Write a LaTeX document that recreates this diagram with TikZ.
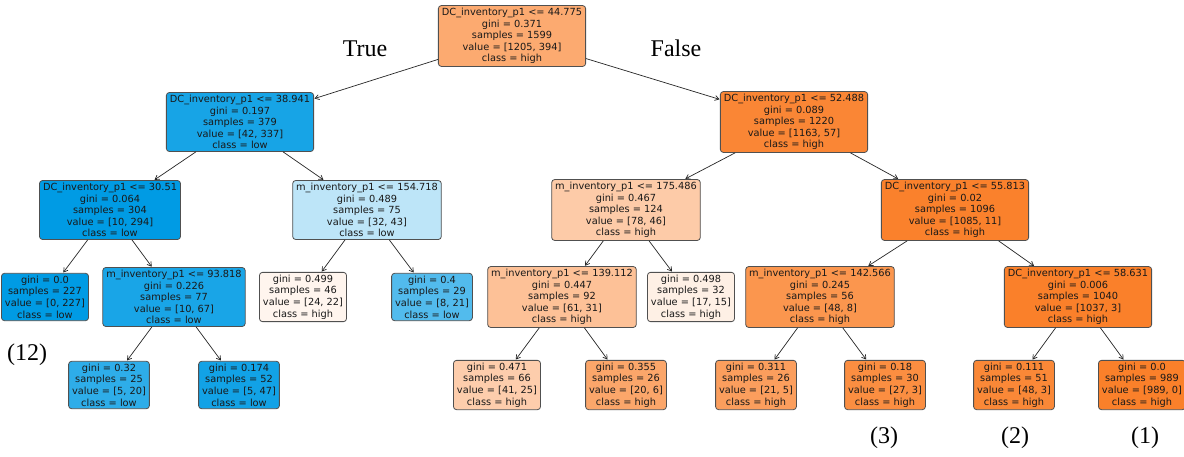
\documentclass[tikz,border=0pt]{standalone}
\usepackage{fontspec}
\setmainfont{DejaVu Sans}
\newfontfamily\tnr{Liberation Serif}
\usetikzlibrary{arrows.meta}
\definecolor{highc}{RGB}{250,128,42}
\definecolor{lowc}{RGB}{0,155,228}
\definecolor{boxline}{RGB}{80,80,80}
\definecolor{txt}{RGB}{25,25,25}
\tikzset{
  tbox/.style={draw=boxline, line width=0.8pt, rounded corners=3pt, align=center,
    text=txt, font=\fontsize{9.8}{11.6}\selectfont, inner xsep=3.5pt, inner ysep=2.5pt},
  edge/.style={draw=black!85, line width=0.7pt, -{Straight Barb[length=4pt,width=5pt]}, shorten >=0.5pt},
  tag/.style={font=\tnr\fontsize{24}{26}\selectfont, text=black}
}

\begin{document}
\begin{tikzpicture}[x=1pt, y=-1pt]
		%%%%% FRAME %%%%%
		\path[use as bounding box, fill=white] (0,0) rectangle (1184,456);
		
		%%%%% LEVEL 0 %%%%%
		\node[tbox, fill=highc!67!white] (root) at (512,36) {DC\_inventory\_p1 <= 44.775\\gini = 0.371\\samples = 1599\\value = [1205, 394]\\class = high};
		
		%%%%% LEVEL 1 %%%%%
		\node[tbox, fill=lowc!91!white] (L) at (240,122) {DC\_inventory\_p1 <= 38.941\\gini = 0.197\\samples = 379\\value = [42, 337]\\class = low};
		\node[tbox, fill=highc!95!white] (R) at (794,122) {DC\_inventory\_p1 <= 52.488\\gini = 0.089\\samples = 1220\\value = [1163, 57]\\class = high};
		
		%%%%% LEVEL 2 %%%%%
		\node[tbox, fill=lowc] (LL) at (110,210) {DC\_inventory\_p1 <= 30.51\\gini = 0.064\\samples = 304\\value = [10, 294]\\class = low};
		\node[tbox, fill=lowc!26!white] (LR) at (367,210) {m\_inventory\_p1 <= 154.718\\gini = 0.489\\samples = 75\\value = [32, 43]\\class = low};
		\node[tbox, fill=highc!41!white] (RL) at (626,210) {m\_inventory\_p1 <= 175.486\\gini = 0.467\\samples = 124\\value = [78, 46]\\class = high};
		\node[tbox, fill=highc!99!white] (RR) at (955,210) {DC\_inventory\_p1 <= 55.813\\gini = 0.02\\samples = 1096\\value = [1085, 11]\\class = high};
		
		%%%%% LEVEL 3 %%%%%
		\node[tbox, fill=lowc] (LLL) at (45,297) {gini = 0.0\\samples = 227\\value = [0, 227]\\class = low};
		\node[tbox, fill=lowc!90!white] (LLR) at (174,297) {m\_inventory\_p1 <= 93.818\\gini = 0.226\\samples = 77\\value = [10, 67]\\class = low};
		\node[tbox, fill=highc!8!white] (LRL) at (303,297) {gini = 0.499\\samples = 46\\value = [24, 22]\\class = high};
		\node[tbox, fill=lowc!68!white] (LRR) at (432,297) {gini = 0.4\\samples = 29\\value = [8, 21]\\class = low};
		\node[tbox, fill=highc!49!white] (RLL) at (562,297) {m\_inventory\_p1 <= 139.112\\gini = 0.447\\samples = 92\\value = [61, 31]\\class = high};
		\node[tbox, fill=highc!12!white] (RLR) at (691,297) {gini = 0.498\\samples = 32\\value = [17, 15]\\class = high};
		\node[tbox, fill=highc!83!white] (RRL) at (820,297) {m\_inventory\_p1 <= 142.566\\gini = 0.245\\samples = 56\\value = [48, 8]\\class = high};
		\node[tbox, fill=highc] (RRR) at (1078,297) {DC\_inventory\_p1 <= 58.631\\gini = 0.006\\samples = 1040\\value = [1037, 3]\\class = high};
		
		%%%%% LEVEL 4 %%%%%
		\node[tbox, fill=lowc!82!white] (LLRL) at (109,385) {gini = 0.32\\samples = 25\\value = [5, 20]\\class = low};
		\node[tbox, fill=lowc!93!white] (LLRR) at (239,385) {gini = 0.174\\samples = 52\\value = [5, 47]\\class = low};
		\node[tbox, fill=highc!39!white] (RLLL) at (497,385) {gini = 0.471\\samples = 66\\value = [41, 25]\\class = high};
		\node[tbox, fill=highc!70!white] (RLLR) at (626,385) {gini = 0.355\\samples = 26\\value = [20, 6]\\class = high};
		\node[tbox, fill=highc!76!white] (RRLL) at (756,385) {gini = 0.311\\samples = 26\\value = [21, 5]\\class = high};
		\node[tbox, fill=highc!89!white] (RRLR) at (885,385) {gini = 0.18\\samples = 30\\value = [27, 3]\\class = high};
		\node[tbox, fill=highc!94!white] (RRRL) at (1014,385) {gini = 0.111\\samples = 51\\value = [48, 3]\\class = high};
		\node[tbox, fill=highc] (RRRR) at (1142,385) {gini = 0.0\\samples = 989\\value = [989, 0]\\class = high};
		
		%%%%% EDGES %%%%%
		\foreach \a/\b in {root/L, root/R, L/LL, L/LR, R/RL, R/RR,
		                   LL/LLL, LL/LLR, LR/LRL, LR/LRR, RL/RLL, RL/RLR, RR/RRL, RR/RRR,
		                   LLR/LLRL, LLR/LLRR, RLL/RLLL, RLL/RLLR, RRL/RRLL, RRL/RRLR, RRR/RRRL, RRR/RRRR}
		  \draw[edge] (\a) -- (\b);
		
		%%%%% LABELS %%%%%
		\node[tag] (ttrue) at (365,49) {True};
		\node[tag] (tfalse) at (676,48) {False};
		\node[tag] (n12) at (27,355) {(12)};
		\node[tag] (n3) at (884,438) {(3)};
		\node[tag] (n2) at (1015,438) {(2)};
		\node[tag] (n1) at (1145,438) {(1)};
	\end{tikzpicture}
\end{document}
